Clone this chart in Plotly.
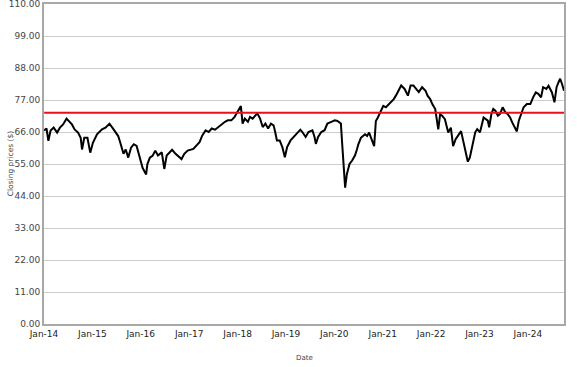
import plotly.graph_objects as go

dates = [
    "2014-01-02", "2014-01-20", "2014-02-03", "2014-02-20", "2014-03-15", "2014-04-10", "2014-05-01",
    "2014-05-25", "2014-06-20", "2014-07-10", "2014-07-31", "2014-08-20", "2014-09-15", "2014-10-05",
    "2014-10-15", "2014-11-01", "2014-11-25", "2014-12-16",
    "2015-01-05", "2015-02-05", "2015-03-15", "2015-04-10", "2015-05-10", "2015-06-01", "2015-06-25",
    "2015-07-15", "2015-07-31", "2015-08-24", "2015-09-10", "2015-09-29", "2015-10-20", "2015-11-10",
    "2015-12-01", "2015-12-20",
    "2016-01-15", "2016-02-11", "2016-02-20", "2016-03-10", "2016-04-01", "2016-04-20", "2016-05-10",
    "2016-06-08", "2016-06-27", "2016-07-15", "2016-08-05", "2016-08-25", "2016-09-20", "2016-10-15",
    "2016-11-04", "2016-11-25", "2016-12-20",
    "2017-02-01", "2017-02-25", "2017-03-20", "2017-04-10", "2017-05-05", "2017-05-28", "2017-06-20",
    "2017-07-15", "2017-08-10", "2017-09-05", "2017-09-28", "2017-10-20", "2017-11-15", "2017-12-10",
    "2018-01-26", "2018-02-08", "2018-02-25", "2018-03-20", "2018-04-05", "2018-04-25", "2018-05-15",
    "2018-05-30", "2018-06-20", "2018-07-10", "2018-07-30", "2018-08-20", "2018-09-10", "2018-09-30",
    "2018-10-12", "2018-10-25", "2018-11-15", "2018-12-05", "2018-12-24",
    "2019-01-10", "2019-02-05", "2019-03-01", "2019-03-25", "2019-04-20", "2019-05-05", "2019-05-30",
    "2019-06-20", "2019-07-20", "2019-08-05", "2019-08-15", "2019-09-01", "2019-09-25", "2019-10-20",
    "2019-11-10", "2019-12-10",
    "2020-01-05", "2020-01-25", "2020-02-20", "2020-02-28", "2020-03-10", "2020-03-23", "2020-04-05",
    "2020-04-25", "2020-05-15", "2020-06-05", "2020-06-20", "2020-06-30", "2020-07-20", "2020-08-20",
    "2020-09-05", "2020-09-20", "2020-10-28", "2020-11-10", "2020-11-25", "2020-12-15",
    "2021-01-05", "2021-01-25", "2021-02-15", "2021-03-05", "2021-03-25", "2021-04-10", "2021-04-25",
    "2021-05-20", "2021-06-15", "2021-07-10", "2021-07-30", "2021-08-20", "2021-09-10", "2021-09-30",
    "2021-10-25", "2021-11-20", "2021-12-05", "2021-12-25",
    "2022-01-10", "2022-02-01", "2022-02-24", "2022-03-10", "2022-03-25", "2022-04-15", "2022-05-10",
    "2022-05-30", "2022-06-16", "2022-07-05", "2022-08-15", "2022-09-05", "2022-09-20", "2022-10-05",
    "2022-10-20", "2022-11-10", "2022-11-30", "2022-12-15",
    "2023-01-05", "2023-02-01", "2023-02-20", "2023-03-05", "2023-03-15", "2023-04-01", "2023-04-15",
    "2023-05-01", "2023-05-20", "2023-06-05", "2023-06-25", "2023-07-15", "2023-08-01", "2023-08-20",
    "2023-09-05", "2023-09-25", "2023-10-10", "2023-10-25", "2023-11-10", "2023-11-30", "2023-12-25",
    "2024-01-20", "2024-02-10", "2024-03-01", "2024-03-20", "2024-04-10", "2024-04-25", "2024-05-20",
    "2024-06-05", "2024-07-01", "2024-07-20", "2024-08-05", "2024-08-20", "2024-09-01", "2024-09-15",
    "2024-09-30",
]

closing_prices = [
    66.5, 67.2, 63.0, 66.5, 67.5, 65.8, 67.5,
    68.6, 70.6, 69.5, 68.6, 66.9, 65.8, 64.0,
    60.0, 64.0, 64.0, 58.9,
    62.3, 65.2, 66.9, 67.5, 68.8, 67.5, 65.8,
    64.6, 62.3, 58.5, 60.0, 57.2, 60.6, 61.8,
    61.2, 58.3,
    53.7, 51.4, 54.9, 57.2, 57.9, 59.6, 57.9,
    59.0, 53.3, 57.9, 59.0, 59.9, 58.5, 57.3,
    56.7, 58.5, 59.6,
    60.2, 61.4, 62.5, 64.8, 66.6, 66.0, 67.2,
    66.8, 67.7, 68.9, 69.5, 70.0, 70.0, 71.2,
    74.9, 68.9, 70.6, 69.5, 71.2, 70.6, 71.8,
    72.4, 70.6, 67.7, 68.9, 67.2, 68.9, 68.3,
    66.0, 63.1, 63.1, 60.8, 57.3,
    60.8, 63.1, 64.3, 65.4, 66.8, 66.0, 64.3,
    66.0, 66.6, 64.3, 61.9, 64.3, 66.0, 66.6,
    68.9, 69.5,
    70.0, 69.8, 68.9, 63.1, 53.8, 46.9, 51.5,
    55.0, 56.2, 57.9, 60.0, 61.7, 64.0, 65.2,
    64.6, 65.8, 61.1, 69.8, 71.0, 72.7,
    75.0, 74.5, 75.6, 76.2, 77.3, 78.5, 79.7,
    82.0, 80.8, 78.5, 82.0, 82.0, 80.8, 79.7,
    81.4, 80.2, 78.5, 77.3,
    75.6, 73.9, 66.9, 72.1, 71.6, 70.4, 65.8,
    67.5, 61.1, 63.5, 66.3, 62.3, 59.6, 55.8,
    57.2, 61.9, 65.9, 67.0,
    65.9, 71.0, 70.4, 69.9, 67.6, 72.2, 73.9,
    73.3, 71.6, 72.2, 74.5, 72.8, 72.2, 71.0,
    69.3, 67.6, 66.2, 69.9, 72.2, 74.5, 75.6,
    75.6, 77.9, 79.6, 79.1, 77.9, 81.4, 80.8,
    81.9, 79.6, 76.2, 81.4, 83.1, 84.3, 82.5,
    80.2,
]

reference_level = 72.6
y_tick_values = [0, 11, 22, 33, 44, 55, 66, 77, 88, 99, 110]
y_tick_labels = ["0.00", "11.00", "22.00", "33.00", "44.00", "55.00", "66.00",
                 "77.00", "88.00", "99.00", "110.00"]
x_tick_values = ["2014-01-01", "2015-01-01", "2016-01-01", "2017-01-01", "2018-01-01",
                 "2019-01-01", "2020-01-01", "2021-01-01", "2022-01-01", "2023-01-01",
                 "2024-01-01"]
x_tick_labels = ["Jan-14", "Jan-15", "Jan-16", "Jan-17", "Jan-18", "Jan-19", "Jan-20",
                 "Jan-21", "Jan-22", "Jan-23", "Jan-24"]

fig = go.Figure()
fig.add_trace(go.Scatter(x=dates, y=closing_prices, mode="lines",
                         line=dict(color="black", width=2), showlegend=False))
fig.add_trace(go.Scatter(x=[dates[0], dates[-1]], y=[reference_level, reference_level],
                         mode="lines", line=dict(color="#e8101a", width=2), showlegend=False))

fig.update_layout(
    width=577, height=367,
    margin=dict(l=44, r=13, t=4, b=43),
    paper_bgcolor="white", plot_bgcolor="white",
    font=dict(family="DejaVu Sans", size=9, color="#333333"),
    xaxis=dict(range=["2014-01-01", dates[-1]], tickvals=x_tick_values, ticktext=x_tick_labels,
               showgrid=False, showline=True, linecolor="#a8a8a8", linewidth=2, mirror=True,
               ticks="", ticklen=0, tickfont=dict(size=9, color="#222222"), zeroline=False,
               automargin=False, ticklabeloverflow="allow"),
    yaxis=dict(range=[0, 110], tickvals=y_tick_values, ticktext=y_tick_labels,
               showgrid=True, gridcolor="#cccccc", gridwidth=1,
               showline=True, linecolor="#a8a8a8", linewidth=2, mirror=True,
               ticks="", ticklen=0, tickfont=dict(size=9, color="#444444"), zeroline=False,
               automargin=False, ticklabeloverflow="allow"),
    annotations=[
        dict(text="Closing prices ($)", textangle=-90, xref="paper", yref="paper",
             x=-0.065, y=0.5, xanchor="center", yanchor="middle", showarrow=False,
             font=dict(size=7.5, color="#444444")),
        dict(text="Date", xref="paper", yref="paper", x=0.5, y=-0.106,
             xanchor="center", yanchor="middle", showarrow=False,
             font=dict(size=7, color="#444444")),
    ],
)

fig.write_html("out.html", config={"displayModeBar": False},
               post_script="document.body.style.margin='0';")
